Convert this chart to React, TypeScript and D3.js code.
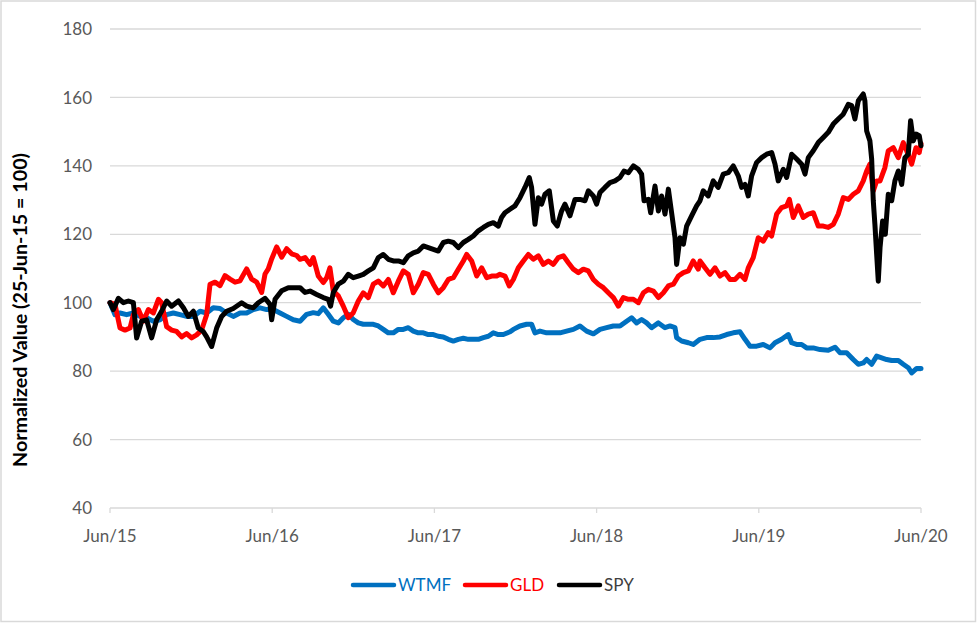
import * as d3 from "d3";

// x values are months since 25-Jun-15, y values are normalized (25-Jun-15 = 100)
const wtmf: [number, number][] = [
  [0, 100], [0.37, 96.5], [0.74, 97], [1.23, 96.5], [1.73, 97], [2.22, 96], [2.71, 95.6], [3.21, 94.6],
  [3.7, 95], [4.19, 96.5], [4.69, 97], [5.18, 96.5], [5.67, 96], [6.17, 96], [6.66, 97.5], [7.15, 97],
  [7.64, 98.5], [8.14, 98.3], [8.63, 97], [9.12, 96], [9.62, 97], [10.11, 97], [10.6, 98], [11.1, 98.5],
  [11.59, 98], [12.08, 98], [12.58, 97], [13.07, 96], [13.56, 95],
  [14.06, 94.6], [14.55, 96.6], [15.04, 97.1], [15.41, 96.8], [15.78, 98.5], [16.15, 96.6], [16.52, 94.6],
  [16.89, 94.1], [17.26, 95.6], [17.63, 96.6], [18.0, 95.1], [18.37, 94.1], [18.74, 93.7], [19.11, 93.7],
  [19.48, 93.7], [19.85, 93.2], [20.22, 92.2], [20.59, 91.2], [20.96, 91.2], [21.33, 92.2], [21.7, 92.2],
  [22.07, 92.7], [22.44, 91.7], [22.81, 91.2], [23.18, 91.2], [23.55, 90.7], [23.92, 90.7], [24.29, 90.2],
  [24.66, 90], [25.03, 89.3], [25.4, 88.8], [25.77, 89.3], [26.14, 89.6], [26.51, 89.3], [26.88, 89.3],
  [27.25, 89.3], [27.62, 89.8], [27.99, 90.2], [28.36, 91.2], [28.73, 90.7],
  [29.1, 90.7], [29.6, 91.5], [29.84, 92.2], [30.33, 93.2], [30.82, 93.7], [31.19, 93.7], [31.44, 91.2],
  [31.81, 91.7], [32.3, 91.2], [32.8, 91.2], [33.29, 91.2], [33.78, 91.7], [34.28, 92.2], [34.77, 93.2],
  [35.26, 91.7], [35.76, 90.9], [36.25, 92.2], [36.74, 92.7], [37.24, 93.2], [37.73, 93.2], [38.22, 94.6],
  [38.59, 95.6], [38.96, 94.1], [39.33, 95.1], [39.7, 94.1], [40.07, 92.7], [40.57, 94.1], [41.06, 92.7],
  [41.43, 93.2], [41.8, 92.7], [41.92, 89.8], [42.29, 88.8], [42.79, 88.3], [43.15, 87.8],
  [43.65, 89.3], [44.14, 89.8], [44.63, 89.8], [45.13, 90], [45.62, 90.7], [46.11, 91.2], [46.61, 91.5],
  [46.98, 89.3], [47.35, 87.3], [47.84, 87.3], [48.33, 87.8], [48.83, 86.8], [49.2, 88.3], [49.69, 89.3],
  [50.18, 90.7], [50.43, 88.3], [50.8, 87.8], [51.17, 87.8], [51.54, 86.8], [52.03, 86.8], [52.53, 86.3],
  [53.14, 86.1], [53.64, 87], [54.0, 85.4], [54.5, 85.4], [54.99, 83.4], [55.36, 82], [55.73, 82.4],
  [55.98, 83.4], [56.35, 82], [56.72, 84.4], [57.09, 83.9], [57.46, 83.4], [57.83, 83.1], [58.32, 83.1],
  [58.69, 82], [59.06, 81], [59.31, 79.5], [59.68, 80.8], [60, 80.8],
];

const gld: [number, number][] = [
  [0, 100], [0.37, 99.5], [0.74, 92.6], [1.11, 92], [1.48, 92.6], [1.73, 96.5], [2.1, 98], [2.47, 94.6],
  [2.84, 98], [3.21, 97], [3.58, 101], [3.82, 100], [4.19, 93], [4.56, 92], [4.93, 91.6], [5.3, 90],
  [5.67, 91], [6.04, 89.7], [6.41, 90.6], [6.78, 92], [7.15, 96.5], [7.4, 105.4], [7.77, 106], [8.14, 105],
  [8.51, 107.9], [8.88, 106.9], [9.25, 106], [9.62, 106.4], [10.11, 109.9], [10.48, 106.9], [10.85, 106],
  [11.22, 103], [11.47, 108.4], [11.71, 109.9], [11.96, 112.8], [12.33, 116.3], [12.7, 113.3], [13.07, 115.8],
  [13.44, 114.3], [13.81, 113.8],
  [14.06, 112.7], [14.43, 113.2], [14.8, 111.2], [15.04, 113.2], [15.41, 107.8], [15.78, 105.9], [16.03, 107.3],
  [16.27, 110.2], [16.52, 103.4], [16.89, 102], [17.26, 99], [17.63, 95.6], [18.0, 97.1], [18.37, 100.5],
  [18.74, 102.9], [19.11, 101.5], [19.48, 105.4], [19.85, 106.3], [20.22, 104.9], [20.59, 106.8], [20.96, 102.9],
  [21.33, 106.3], [21.7, 109.3], [22.07, 108.3], [22.44, 102.9], [22.81, 105.4], [23.18, 108.8], [23.55, 108.3],
  [23.92, 105.4], [24.29, 102.9], [24.66, 104.4], [25.03, 106.8], [25.4, 107.3], [25.77, 109.8], [26.14, 112.2],
  [26.39, 114.1], [26.76, 112.2], [27.13, 107.8], [27.5, 110.2], [27.87, 107.3], [28.24, 107.8], [28.61, 107.8],
  [28.85, 108.3], [29.22, 107.8], [29.54, 104.9], [29.84, 106.8], [30.21, 110.2], [30.58, 112.2], [30.95, 114.1],
  [31.32, 112.7], [31.69, 113.7], [32.06, 111.2], [32.43, 112.2], [32.8, 111.2], [33.17, 113.2], [33.54, 113.7],
  [33.91, 111.7], [34.28, 109.8], [34.65, 108.8], [35.02, 109.8], [35.39, 109.3], [35.76, 106.8], [36.13, 105.4],
  [36.5, 104.4], [36.87, 102.9], [37.24, 101.5], [37.61, 99], [37.98, 101.5], [38.35, 101], [38.72, 101],
  [39.09, 100], [39.46, 102.9], [39.83, 103.9], [40.2, 103.4], [40.57, 101.5], [40.94, 102.9], [41.31, 104.9],
  [41.68, 105.4], [42.05, 107.8], [42.42, 108.8], [42.79, 109.3], [43.15, 112.2], [43.52, 109.8],
  [43.65, 112.2], [44.02, 110.2], [44.39, 108.3], [44.76, 110.2], [45.13, 107.8], [45.5, 108.8], [45.87, 106.8],
  [46.24, 106.8], [46.61, 108.3], [46.98, 106.8], [47.22, 110.2], [47.59, 113.2], [47.96, 119], [48.33, 118],
  [48.7, 120.5], [48.95, 119.5], [49.32, 125.9], [49.69, 127.8], [50.06, 128.3], [50.26, 130.2], [50.55, 124.9],
  [50.92, 128.3], [51.29, 124.9], [51.66, 125.9], [52.03, 126.3], [52.4, 122.4], [52.77, 122.4], [53.14, 122],
  [53.51, 122.9], [53.88, 125.9], [54.25, 130.7], [54.62, 130.2], [54.99, 131.7], [55.36, 132.7], [55.73, 135.6],
  [55.98, 138.5], [56.22, 140.5], [56.47, 132.7], [56.72, 135.6], [56.97, 135.6], [57.33, 139.5], [57.58, 144.4],
  [57.95, 145.3], [58.32, 142.4], [58.69, 146.8], [58.94, 144.4], [59.31, 140.5], [59.63, 145.3], [59.87, 143.9],
  [60, 146.5],
];

const spy: [number, number][] = [
  [0, 100], [0.25, 98], [0.62, 101.3], [0.99, 100], [1.36, 100.5], [1.73, 100], [1.97, 89.7], [2.34, 94.6],
  [2.71, 95], [3.08, 89.7], [3.45, 95], [3.82, 97.5], [4.19, 100.5], [4.56, 99], [5.06, 100.5], [5.43, 98.5],
  [5.8, 96], [6.17, 97.5], [6.53, 92.6], [6.9, 91.6], [7.15, 90], [7.52, 87.2], [7.89, 92.6], [8.26, 96],
  [8.63, 97.5], [9.12, 98.3], [9.74, 100], [10.11, 99], [10.6, 98.5], [10.97, 100], [11.47, 101.3], [11.84, 99.5],
  [11.96, 95], [12.21, 101], [12.7, 103.5], [13.19, 104.4], [13.69, 104.4],
  [14.06, 104.4], [14.43, 103], [14.8, 103.4], [15.29, 102.4], [15.78, 101.5], [16.15, 101], [16.32, 99],
  [16.52, 103], [16.89, 105.4], [17.26, 106.3], [17.63, 108.3], [18.0, 107.3], [18.37, 107.8], [18.74, 108.3],
  [19.11, 109.3], [19.48, 110.2], [19.85, 113.2], [20.22, 114.1], [20.59, 112.7], [20.96, 112.2], [21.33, 112.2],
  [21.7, 111.7], [22.07, 113.7], [22.44, 114.6], [22.81, 115.1], [23.18, 116.6], [23.55, 116.1], [23.92, 115.6],
  [24.29, 115.1], [24.66, 117.6], [25.03, 118], [25.4, 117.6], [25.77, 116.1], [26.14, 117.6], [26.51, 118.5],
  [26.88, 119.5], [27.25, 121], [27.62, 122], [27.99, 122.9], [28.36, 123.4], [28.73, 122.4],
  [28.98, 125], [29.22, 126.3], [29.59, 127.3], [29.96, 128.3], [30.33, 130.7], [30.7, 133.7], [31.02, 136.6],
  [31.19, 133.7], [31.44, 122.9], [31.69, 130.7], [31.93, 128.8], [32.18, 131.7], [32.5, 132.7], [32.8, 123.9],
  [33.09, 122.4], [33.41, 126.8], [33.66, 128.8], [34.03, 125.4], [34.4, 130.2], [34.77, 130.2], [35.14, 129.8],
  [35.39, 132.7], [35.76, 131.2], [36.0, 128.8], [36.25, 132.2], [36.62, 133.7], [36.99, 135.1], [37.36, 135.6],
  [37.73, 136.6], [38.03, 138.5], [38.35, 138], [38.72, 140], [39.09, 139], [39.33, 137.6], [39.51, 129.8],
  [39.83, 130.2], [40.0, 126.3], [40.32, 134.1], [40.57, 126.8], [40.81, 131.2], [41.06, 125.9], [41.31, 133.2],
  [41.55, 126.3], [41.8, 119], [41.92, 111.2], [42.17, 119], [42.42, 117.1], [42.66, 122.4], [43.03, 125.4],
  [43.4, 128.3],
  [43.65, 129.8], [43.89, 132.7], [44.26, 131.2], [44.63, 135.6], [45.0, 133.7], [45.37, 137.6], [45.74, 138],
  [46.11, 140], [46.48, 137.1], [46.73, 133.7], [46.98, 134.6], [47.22, 131.2], [47.47, 137.1], [47.84, 141],
  [48.21, 142.4], [48.58, 143.4], [48.95, 143.9], [49.2, 140.5], [49.44, 135.6], [49.81, 139], [50.06, 136.6],
  [50.43, 143.4], [50.8, 142], [51.17, 140.5], [51.42, 137.6], [51.66, 142.4], [52.03, 144.4], [52.4, 146.8],
  [52.77, 148.3], [53.14, 149.8], [53.51, 152.2], [53.88, 153.7], [54.25, 155.1], [54.62, 158], [54.87, 157.6],
  [55.11, 153.7], [55.36, 159], [55.73, 161], [55.85, 159], [55.98, 150.2], [56.22, 147.3], [56.35, 142],
  [56.47, 129.8], [56.59, 122.9], [56.72, 114.1], [56.84, 106.3], [56.97, 116.1], [57.16, 123.9], [57.36, 120],
  [57.58, 131.7], [57.83, 129.8], [58.07, 135.6], [58.32, 138.5], [58.57, 134.6], [58.81, 142.4], [59.06, 143.4],
  [59.23, 153.2], [59.43, 147.3], [59.63, 149.3], [59.87, 148.8], [60, 145.9],
];

const yTicks = [40, 60, 80, 100, 120, 140, 160, 180];
const xTicks = [0, 12, 24, 36, 48, 60];
const xTickLabels = ["Jun/15", "Jun/16", "Jun/17", "Jun/18", "Jun/19", "Jun/20"];

const seriesNames = ["WTMF", "GLD", "SPY"];
const seriesColors = ["#0070C0", "#FF0000", "#000000"];
const legendTextColors = ["#0070C0", "#FF0000", "#404040"];
const seriesData = [wtmf, gld, spy];

const W = 977;
const H = 623;
const margin = { top: 29, right: 56, bottom: 115, left: 110 };
const FONT = "Lato, 'Open Sans', sans-serif";

export default function App() {
  const x = d3.scaleLinear().domain([0, 60]).range([margin.left, W - margin.right]);
  const y = d3.scaleLinear().domain([40, 180]).range([H - margin.bottom, margin.top]);
  const line = d3
    .line<[number, number]>()
    .x((d) => x(d[0]))
    .y((d) => y(d[1]))
    .curve(d3.curveLinear);

  const legendX = [352, 464, 558];
  const legendY = 585;

  return (
    <div style={{ position: "fixed", left: 0, top: 0, width: W, height: H, background: "#fff" }}>
      <svg width={W} height={H} style={{ display: "block", fontFamily: FONT }}>
        <rect x={1} y={1} width={W - 2.5} height={H - 2.5} fill="#fff" stroke="#d9d9d9" strokeWidth={1.5} />

        {/* gridlines */}
        {yTicks.map((t) => (
          <line key={t} x1={x(0)} x2={x(60)} y1={y(t)} y2={y(t)} stroke="#d9d9d9" strokeWidth={1.3} />
        ))}
        {/* x ticks */}
        {xTicks.map((t) => (
          <line key={t} x1={x(t)} x2={x(t)} y1={y(40)} y2={y(40) + 5} stroke="#d9d9d9" strokeWidth={1.3} />
        ))}

        {/* y labels */}
        {yTicks.map((t) => (
          <text key={t} x={92} y={y(t)} dy="0.36em" textAnchor="end" fontSize={17} fill="#595959">
            {t}
          </text>
        ))}
        {/* x labels */}
        {xTicks.map((t, i) => (
          <text key={t} x={x(t)} y={y(40) + 34} textAnchor="middle" fontSize={17} fill="#595959">
            {xTickLabels[i]}
          </text>
        ))}

        <text
          transform="translate(20, 310) rotate(-90)"
          dy="0.36em"
          textAnchor="middle"
          fontSize={19}
          fontWeight="bold"
          fill="#000"
          textLength={314}
          lengthAdjust="spacingAndGlyphs"
        >
          Normalized Value (25-Jun-15 = 100)
        </text>

        {seriesData.map((d, i) => (
          <path
            key={seriesNames[i]}
            d={line(d) ?? ""}
            fill="none"
            stroke={seriesColors[i]}
            strokeWidth={5}
            strokeLinejoin="round"
            strokeLinecap="round"
          />
        ))}

        {seriesNames.map((name, i) => (
          <g key={name} transform={`translate(${legendX[i]}, ${legendY})`}>
            <line x1={1} x2={42} y1={0} y2={0} stroke={seriesColors[i]} strokeWidth={4.5} strokeLinecap="round" />
            <text x={46} y={0} dy="0.36em" fontSize={17} fill={legendTextColors[i]}>
              {name}
            </text>
          </g>
        ))}
      </svg>
    </div>
  );
}
